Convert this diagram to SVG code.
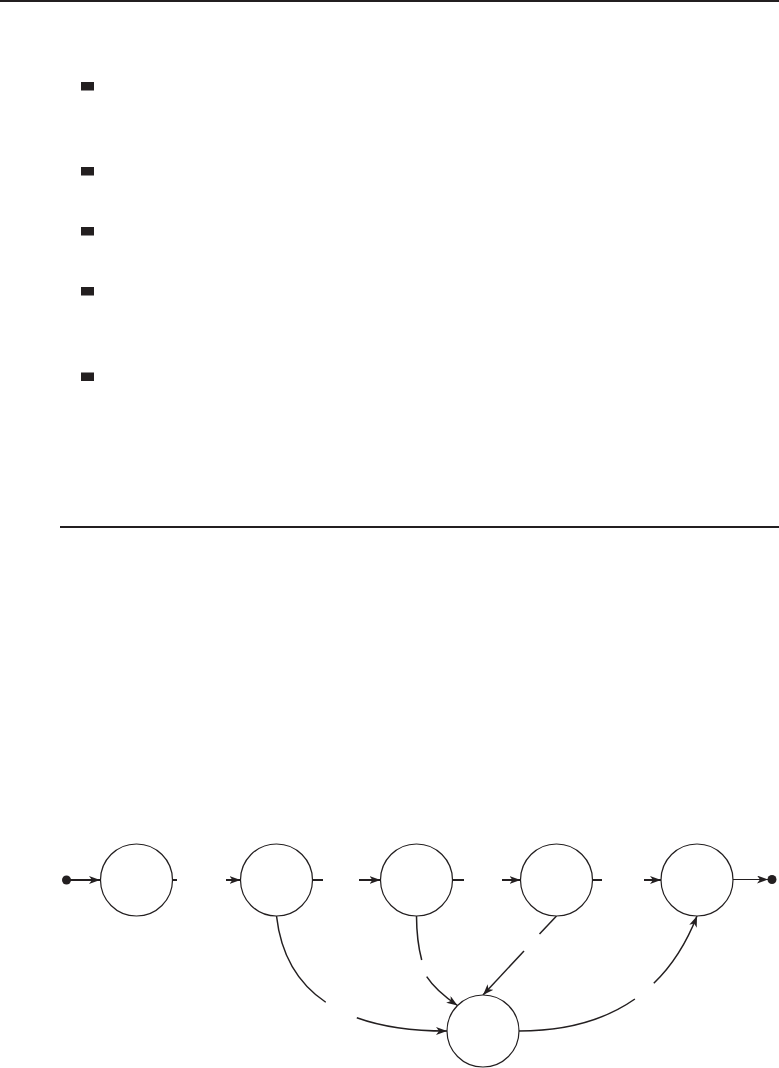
<svg xmlns="http://www.w3.org/2000/svg" width="779" height="1068" viewBox="0 0 779 1068">
<style>
.rule{stroke:#231f20;stroke-width:2;fill:none}
.bullet{fill:#231f20}
.node{fill:#fff;stroke:#231f20;stroke-width:1.2}
.edge{fill:none;stroke:#231f20;stroke-width:1.5}
.thick{stroke-width:2}
.thin{stroke-width:1.2}
.dot{fill:#231f20}
</style>
<defs>
<marker id="arr" viewBox="0 0 11 8" refX="11" refY="4" markerWidth="11" markerHeight="8" markerUnits="userSpaceOnUse" orient="auto">
<path d="M0,0 L11,4 L0,8 L3,4 Z" fill="#231f20"/>
</marker>
</defs>
<g id="page">
<line class="rule" x1="0" y1="1" x2="779" y2="1"/>
<line class="rule" x1="60" y1="527" x2="779" y2="527"/>
<rect class="bullet" x="81" y="82" width="13" height="8.5"/>
<rect class="bullet" x="81" y="167" width="13" height="8.5"/>
<rect class="bullet" x="81" y="227" width="13" height="8.5"/>
<rect class="bullet" x="81" y="287" width="13" height="8.5"/>
<rect class="bullet" x="81" y="372.5" width="13" height="8.5"/>
</g>
<g id="connectors">
<circle class="dot" cx="66.5" cy="880" r="4.5"/>
<line class="edge thick" x1="66.5" y1="880" x2="100" y2="880" marker-end="url(#arr)"/>
<line class="edge thick" x1="172.5" y1="880" x2="177" y2="880"/>
<line class="edge thick" x1="226" y1="880" x2="240.5" y2="880" marker-end="url(#arr)"/>
<line class="edge thick" x1="312.5" y1="880" x2="323" y2="880"/>
<line class="edge thick" x1="359" y1="880" x2="380.5" y2="880" marker-end="url(#arr)"/>
<line class="edge thick" x1="452.5" y1="880" x2="464" y2="880"/>
<line class="edge thick" x1="502" y1="880" x2="520.5" y2="880" marker-end="url(#arr)"/>
<line class="edge thick" x1="592.5" y1="880" x2="602" y2="880"/>
<line class="edge thick" x1="644" y1="880" x2="661" y2="880" marker-end="url(#arr)"/>
<line class="edge thin" x1="733" y1="879.5" x2="768" y2="879.5" marker-end="url(#arr)"/>
<circle class="dot" cx="772" cy="879.5" r="4.5"/>
<path class="edge" d="M276.5,916 Q283,973.5 325.75,1002.25"/>
<path class="edge" d="M356.8,1017.7 Q393.6,1031 447,1031" marker-end="url(#arr)"/>
<path class="edge" d="M416.5,916 C416.6,935 418.5,948 421.7,960"/>
<path class="edge" d="M426.7,976.7 Q436,991 457.5,1005.5" marker-end="url(#arr)"/>
<line class="edge" x1="556.5" y1="916" x2="539.5" y2="934"/>
<line class="edge" x1="524" y1="951" x2="483" y2="995" marker-end="url(#arr)"/>
<path class="edge" d="M519,1031 Q589.2,1031 634.9,999"/>
<path class="edge" d="M653.8,983.3 Q681,957 697,916" marker-end="url(#arr)"/>
</g>
<g id="n1"><circle class="node" cx="136.5" cy="880" r="36"/></g>
<g id="n2"><circle class="node" cx="276.5" cy="880" r="36"/></g>
<g id="n3"><circle class="node" cx="416.5" cy="880" r="36"/></g>
<g id="n4"><circle class="node" cx="556.5" cy="880" r="36"/></g>
<g id="n5"><circle class="node" cx="697" cy="880" r="36"/></g>
<g id="n6"><circle class="node" cx="483" cy="1031" r="36"/></g>
</svg>
